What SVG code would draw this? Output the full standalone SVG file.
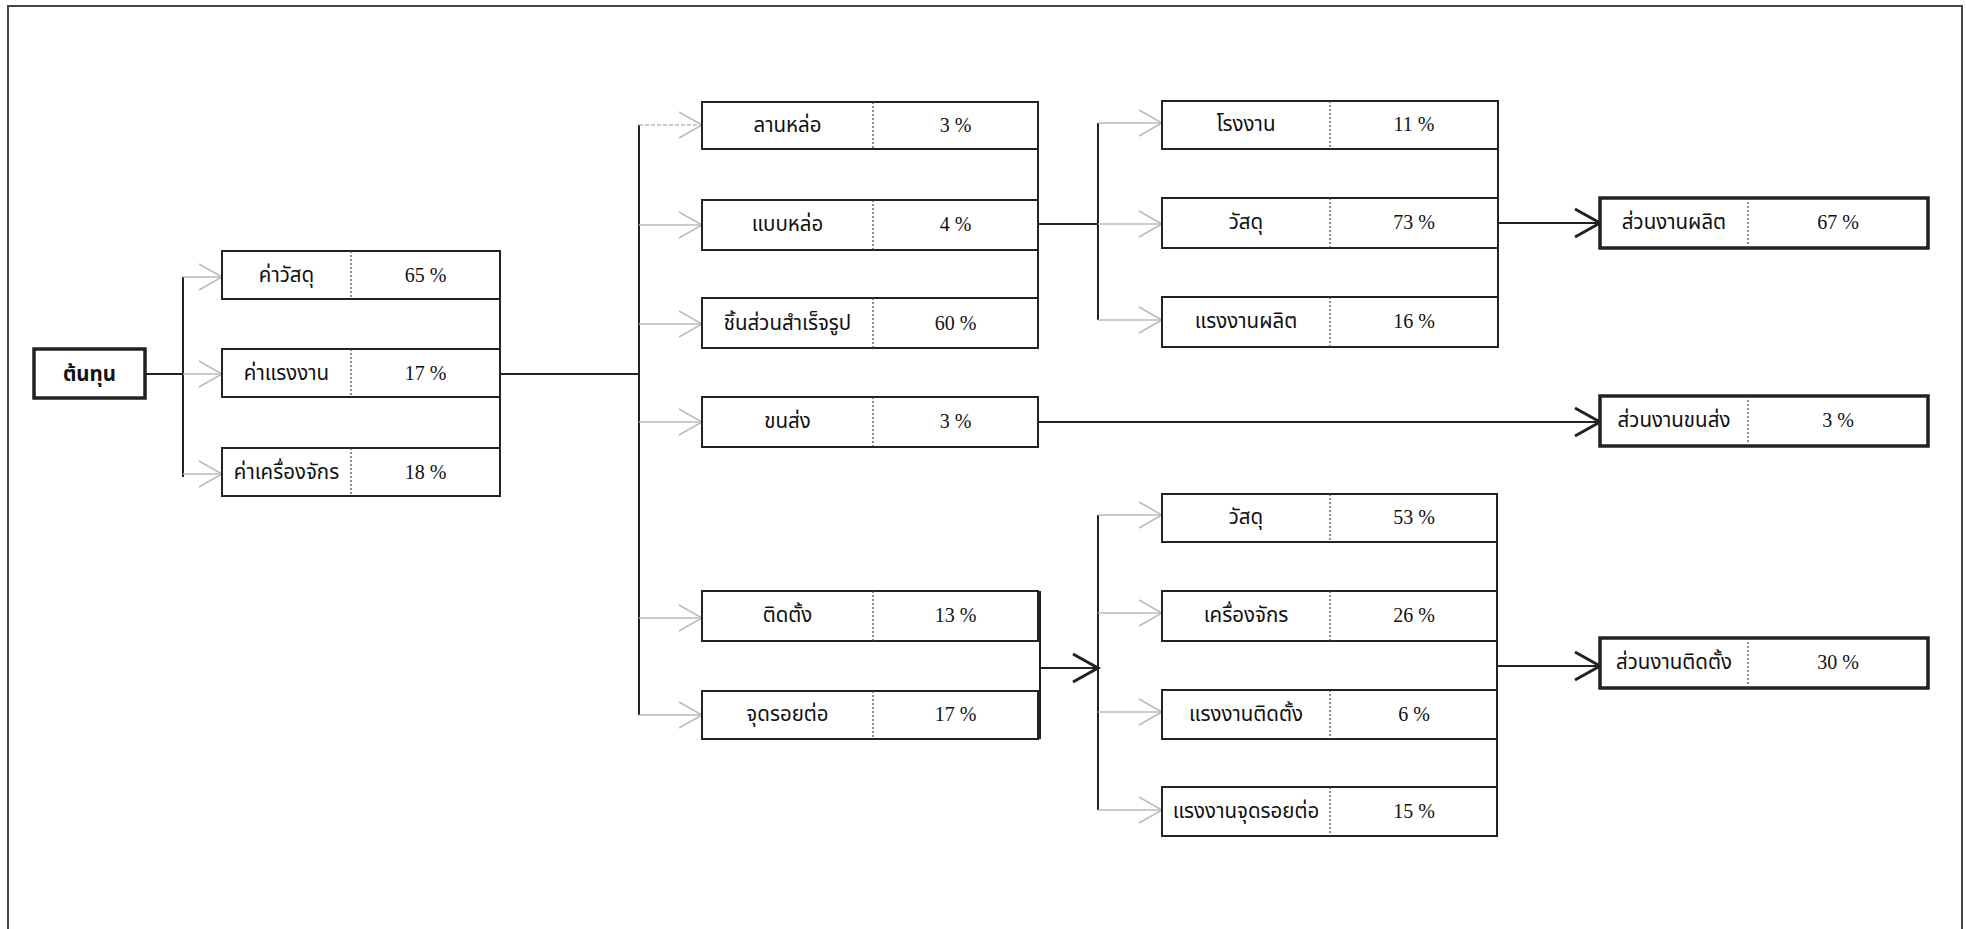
<svg xmlns="http://www.w3.org/2000/svg" width="1966" height="929" viewBox="0 0 1966 929">
<defs>
<style>
.box{fill:#fff;stroke:#222;stroke-width:2}
.thick{fill:#fff;stroke:#222;stroke-width:3.5}
.div{stroke:#444;stroke-width:1.2;stroke-dasharray:2 2}
.th{font-family:"Noto Sans Thai","Noto Serif Thai","Noto Sans","DejaVu Sans",sans-serif;font-size:20.5px;fill:#111;text-anchor:middle}
.num{font-family:"Liberation Serif",serif;font-size:20px;fill:#111;text-anchor:middle}
.blk{stroke:#222;stroke-width:2;fill:none}
.gry{stroke:#bbb;stroke-width:1.5;fill:none}
</style>
<marker id="ag" markerUnits="userSpaceOnUse" markerWidth="26" markerHeight="30" refX="23" refY="14" orient="auto" overflow="visible">
<path d="M0,1 L23,14 L0,27" fill="none" stroke="#bbb" stroke-width="1.5"/>
</marker>
<marker id="ab" markerUnits="userSpaceOnUse" markerWidth="28" markerHeight="32" refX="25" refY="15" orient="auto" overflow="visible">
<path d="M0,1 L25,15 L0,29" fill="none" stroke="#222" stroke-width="3"/>
</marker>
</defs>
<rect x="0" y="0" width="1966" height="929" fill="#fff"/>
<path d="M8,929 L8,6 L1962,6 L1962,929" fill="none" stroke="#444" stroke-width="2"/>

<g id="connectors">
<path class="blk" d="M145,374 H183 M183,277 V477"/>
<path class="gry" marker-end="url(#ag)" d="M183,277 H222"/>
<path class="gry" marker-end="url(#ag)" d="M183,374 H222"/>
<path class="gry" marker-end="url(#ag)" d="M183,474 H222"/>
<path class="blk" d="M500,251 V496 M500,374 H639 M639,125 V715"/>
<path class="gry" marker-end="url(#ag)" d="M639,125 H702" stroke-dasharray="4 2"/>
<path class="gry" marker-end="url(#ag)" d="M639,225 H702"/>
<path class="gry" marker-end="url(#ag)" d="M639,324 H702"/>
<path class="gry" marker-end="url(#ag)" d="M639,422 H702"/>
<path class="gry" marker-end="url(#ag)" d="M639,618 H702"/>
<path class="gry" marker-end="url(#ag)" d="M639,715 H702"/>
<path class="blk" d="M1038,102 V348 M1038,224 H1098 M1098,123 V320"/>
<path class="gry" marker-end="url(#ag)" d="M1098,123 H1162"/>
<path class="gry" marker-end="url(#ag)" d="M1098,224 H1162"/>
<path class="gry" marker-end="url(#ag)" d="M1098,320 H1162"/>
<path class="blk" d="M1498,101 V347"/>
<path class="blk" marker-end="url(#ab)" d="M1498,223 H1600"/>
<path class="blk" marker-end="url(#ab)" d="M1038,422 H1600"/>
<path class="blk" d="M1040,591 V739"/>
<path class="blk" marker-end="url(#ab)" d="M1040,668 H1098"/>
<path class="blk" d="M1098,515 V810"/>
<path class="gry" marker-end="url(#ag)" d="M1098,515 H1162"/>
<path class="gry" marker-end="url(#ag)" d="M1098,613 H1162"/>
<path class="gry" marker-end="url(#ag)" d="M1098,712 H1162"/>
<path class="gry" marker-end="url(#ag)" d="M1098,810 H1162"/>
<path class="blk" d="M1497,494 V836"/>
<path class="blk" marker-end="url(#ab)" d="M1497,666 H1600"/>
</g>

<g id="n-root"><rect class="thick" x="34" y="349" width="111" height="49"/><text class="th" x="89.5" y="381" font-weight="bold">ต้นทุน</text></g>

<g id="n-material"><rect class="box" x="222" y="251" width="278" height="48"/><line class="div" x1="351" y1="251" x2="351" y2="299"/><text class="th" x="286.5" y="282">ค่าวัสดุ</text><text class="num" x="425.5" y="282">65 %</text></g>
<g id="n-labor"><rect class="box" x="222" y="349" width="278" height="48"/><line class="div" x1="351" y1="349" x2="351" y2="397"/><text class="th" x="286.5" y="380">ค่าแรงงาน</text><text class="num" x="425.5" y="380">17 %</text></g>
<g id="n-machine"><rect class="box" x="222" y="448" width="278" height="48"/><line class="div" x1="351" y1="448" x2="351" y2="496"/><text class="th" x="286.5" y="479">ค่าเครื่องจักร</text><text class="num" x="425.5" y="479">18 %</text></g>

<g id="n-yard"><rect class="box" x="702" y="102" width="336" height="47"/><line class="div" x1="873" y1="102" x2="873" y2="149"/><text class="th" x="787.5" y="132">ลานหล่อ</text><text class="num" x="955.5" y="132">3 %</text></g>
<g id="n-mold"><rect class="box" x="702" y="200" width="336" height="50"/><line class="div" x1="873" y1="200" x2="873" y2="250"/><text class="th" x="787.5" y="231">แบบหล่อ</text><text class="num" x="955.5" y="231">4 %</text></g>
<g id="n-precast"><rect class="box" x="702" y="298" width="336" height="50"/><line class="div" x1="873" y1="298" x2="873" y2="348"/><text class="th" x="787.5" y="330">ชิ้นส่วนสำเร็จรูป</text><text class="num" x="955.5" y="330">60 %</text></g>
<g id="n-transport"><rect class="box" x="702" y="397" width="336" height="50"/><line class="div" x1="873" y1="397" x2="873" y2="447"/><text class="th" x="787.5" y="428">ขนส่ง</text><text class="num" x="955.5" y="428">3 %</text></g>
<g id="n-install"><rect class="box" x="702" y="591" width="336" height="50"/><line class="div" x1="873" y1="591" x2="873" y2="641"/><text class="th" x="787.5" y="622">ติดตั้ง</text><text class="num" x="955.5" y="622">13 %</text></g>
<g id="n-joint"><rect class="box" x="702" y="691" width="336" height="48"/><line class="div" x1="873" y1="691" x2="873" y2="739"/><text class="th" x="787.5" y="721">จุดรอยต่อ</text><text class="num" x="955.5" y="721">17 %</text></g>

<g id="n-factory"><rect class="box" x="1162" y="101" width="336" height="48"/><line class="div" x1="1330" y1="101" x2="1330" y2="149"/><text class="th" x="1246" y="131">โรงงาน</text><text class="num" x="1414" y="131">11 %</text></g>
<g id="n-mat1"><rect class="box" x="1162" y="198" width="336" height="50"/><line class="div" x1="1330" y1="198" x2="1330" y2="248"/><text class="th" x="1246" y="229">วัสดุ</text><text class="num" x="1414" y="229">73 %</text></g>
<g id="n-prodlabor"><rect class="box" x="1162" y="297" width="336" height="50"/><line class="div" x1="1330" y1="297" x2="1330" y2="347"/><text class="th" x="1246" y="328">แรงงานผลิต</text><text class="num" x="1414" y="328">16 %</text></g>

<g id="n-mat2"><rect class="box" x="1162" y="494" width="335" height="48"/><line class="div" x1="1330" y1="494" x2="1330" y2="542"/><text class="th" x="1246" y="524">วัสดุ</text><text class="num" x="1414" y="524">53 %</text></g>
<g id="n-mach2"><rect class="box" x="1162" y="591" width="335" height="50"/><line class="div" x1="1330" y1="591" x2="1330" y2="641"/><text class="th" x="1246" y="622">เครื่องจักร</text><text class="num" x="1414" y="622">26 %</text></g>
<g id="n-instlabor"><rect class="box" x="1162" y="690" width="335" height="49"/><line class="div" x1="1330" y1="690" x2="1330" y2="739"/><text class="th" x="1246" y="721">แรงงานติดตั้ง</text><text class="num" x="1414" y="721">6 %</text></g>
<g id="n-jointlabor"><rect class="box" x="1162" y="787" width="335" height="49"/><line class="div" x1="1330" y1="787" x2="1330" y2="836"/><text class="th" x="1246" y="818">แรงงานจุดรอยต่อ</text><text class="num" x="1414" y="818">15 %</text></g>

<g id="n-prodpart"><rect class="thick" x="1600" y="198" width="328" height="50"/><line class="div" x1="1748" y1="198" x2="1748" y2="248"/><text class="th" x="1674" y="229">ส่วนงานผลิต</text><text class="num" x="1838" y="229">67 %</text></g>
<g id="n-transpart"><rect class="thick" x="1600" y="396" width="328" height="50"/><line class="div" x1="1748" y1="396" x2="1748" y2="446"/><text class="th" x="1674" y="427">ส่วนงานขนส่ง</text><text class="num" x="1838" y="427">3 %</text></g>
<g id="n-instpart"><rect class="thick" x="1600" y="638" width="328" height="50"/><line class="div" x1="1748" y1="638" x2="1748" y2="688"/><text class="th" x="1674" y="669">ส่วนงานติดตั้ง</text><text class="num" x="1838" y="669">30 %</text></g>
</svg>
